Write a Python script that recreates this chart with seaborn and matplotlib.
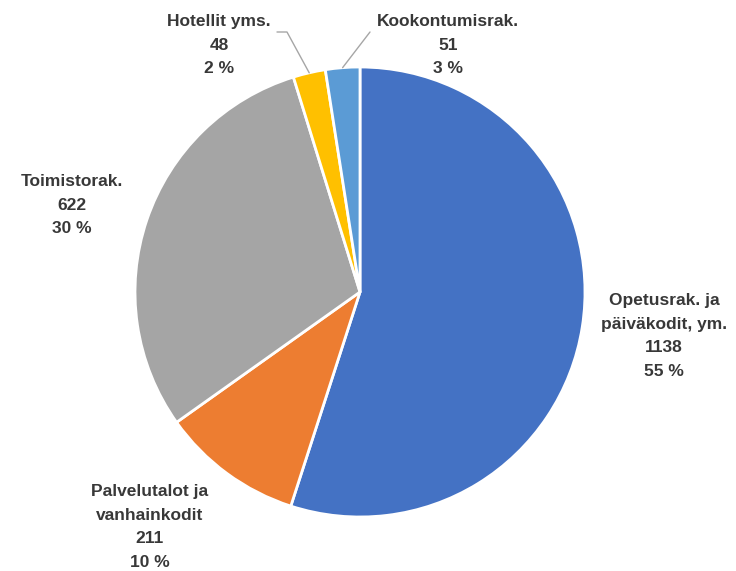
import numpy as np
import matplotlib
matplotlib.use("Agg")
import matplotlib.pyplot as plt
from matplotlib import font_manager
import seaborn as sns

# Building categories and their counts
categories = ["Opetusrak. ja\npäiväkodit, ym.", "Palvelutalot ja\nvanhainkodit",
              "Toimistorak.", "Hotellit yms.", "Kookontumisrak."]
values = [1138, 211, 622, 48, 51]
percent_labels = ["55 %", "10 %", "30 %", "2 %", "3 %"]
colors = ["#4472C4", "#ED7D31", "#A5A5A5", "#FFC000", "#5B9BD5"]

# Label block centres in pixel space, and where leader lines begin
label_pos = [(664, 336), (150, 527), (72, 205), (219, 45), (448, 45)]
leader_start = [None, None, None, [(277, 32), (287, 32)], [(370, 32)]]

sns.set_theme(style="white")
available = {f.name for f in font_manager.fontManager.ttflist}
label_family = [f for f in ["Liberation Sans Narrow", "Liberation Sans", "DejaVu Sans"]
                if f in available] or ["DejaVu Sans"]
plt.rcParams["font.family"] = label_family

W, H = 736, 571
fig = plt.figure(figsize=(W / 100, H / 100), dpi=100)
ax = fig.add_axes([0, 0, 1, 1])
ax.axis("off")

cx, cy, r = 360, H - 292, 225
palette = sns.color_palette(colors)
wedges, _ = ax.pie(values, colors=palette, startangle=90, counterclock=False,
                   center=(cx, cy), radius=r,
                   wedgeprops=dict(edgecolor="white", linewidth=2))
ax.set_xlim(0, W)
ax.set_ylim(0, H)
ax.set_aspect("equal")

text_color = "#383838"
for i, (w, cat) in enumerate(zip(wedges, categories)):
    lx, ly = label_pos[i]
    txt = f"{cat}\n{values[i]}\n{percent_labels[i]}"
    ax.text(lx, H - ly, txt, ha="center", va="center", fontsize=12.5,
            fontweight="bold", color=text_color, linespacing=1.72)
    if leader_start[i] is not None:
        mid = np.deg2rad((w.theta1 + w.theta2) / 2)
        ex, ey = cx + r * np.cos(mid), cy + r * np.sin(mid)
        pts = [(x, H - y) for x, y in leader_start[i]] + [(ex, ey)]
        xs, ys = zip(*pts)
        ax.plot(xs, ys, color="#A6A6A6", linewidth=1)

fig.savefig("out.png", dpi=100, facecolor="white")
